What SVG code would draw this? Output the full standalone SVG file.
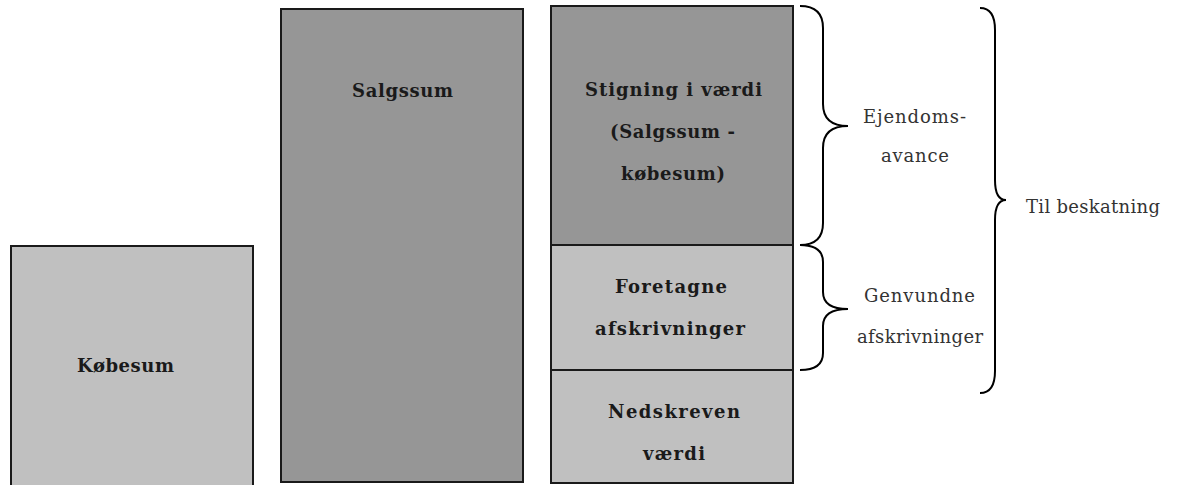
<svg xmlns="http://www.w3.org/2000/svg" width="1180" height="485" viewBox="0 0 1180 485">
<style>
.box{stroke:#1a1a1a;stroke-width:2}
.light{fill:#c0c0c0}
.dark{fill:#969696}
.b{font-family:"DejaVu Serif","Liberation Serif",serif;font-weight:bold;font-size:18px;fill:#1a1a1a;text-anchor:middle}
.r{font-family:"DejaVu Serif","Liberation Serif",serif;font-size:18px;fill:#333;text-anchor:middle}
.brace{fill:none;stroke:#000;stroke-width:2}
</style>
<rect width="1180" height="485" fill="#fff"/>
<g id="kobesum">
<rect class="box light" x="11" y="246" width="242" height="250"/>
<text class="b" x="125.5" y="372" textLength="97">Købesum</text>
</g>
<g id="salgssum">
<rect class="box dark" x="281" y="9" width="242" height="473"/>
<text class="b" x="402.5" y="97" textLength="101">Salgssum</text>
</g>
<g id="stigning">
<rect class="box dark" x="551" y="6" width="242" height="239"/>
<text class="b" x="673.5" y="96" textLength="177">Stigning i værdi</text>
<text class="b" x="672.5" y="138" textLength="125">(Salgssum -</text>
<text class="b" x="673" y="180" textLength="104">købesum)</text>
</g>
<g id="foretagne">
<rect class="box light" x="551" y="245" width="242" height="125"/>
<text class="b" x="671" y="293" textLength="112">Foretagne</text>
<text class="b" x="670" y="335" textLength="150">afskrivninger</text>
</g>
<g id="nedskreven">
<rect class="box light" x="551" y="370" width="242" height="113"/>
<text class="b" x="674" y="418" textLength="132">Nedskreven</text>
<text class="b" x="674" y="460" textLength="62">værdi</text>
</g>
<g id="connectors">
<path class="brace" d="M800,6 Q823,6 823,28 L823,104 Q823,126 848,126 Q823,126 823,148 L823,223 Q823,245 800,245"/>
<path class="brace" d="M800,245 Q823,245 823,262 L823,292 Q823,309 848,309 Q823,309 823,326 L823,353 Q823,370 800,370"/>
<path class="brace" d="M980,8 Q995,8 995,30 L995,180 Q995,200 1006,200 Q995,200 995,220 L995,371 Q995,393 980,393"/>
</g>
<g id="labels">
<text class="r" x="914.5" y="123" textLength="103">Ejendoms-</text>
<text class="r" x="915" y="162" textLength="68">avance</text>
<text class="r" x="1093" y="213" textLength="134">Til beskatning</text>
<text class="r" x="919.5" y="302" textLength="111">Genvundne</text>
<text class="r" x="920" y="343" textLength="126">afskrivninger</text>
</g>
</svg>
